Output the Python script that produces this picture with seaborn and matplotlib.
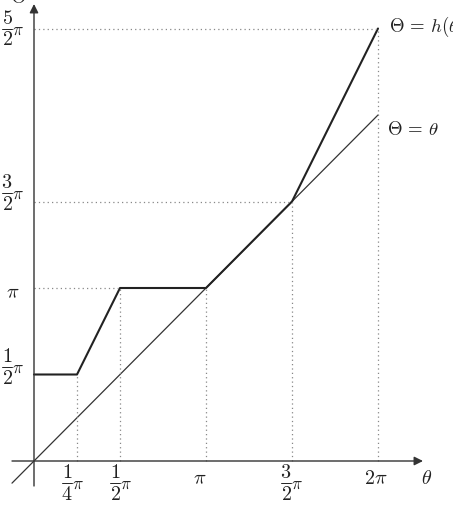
import numpy as np
import pandas as pd
import matplotlib
matplotlib.use("Agg")
import matplotlib.pyplot as plt
import seaborn as sns

# values in units of pi
theta_pts = [0, 0.25, 0.5, 1, 1.5, 2]
h_pts = [0.5, 0.5, 1, 1, 1.5, 2.5]
ident_theta = [-0.128, 2]
ident_vals = [-0.128, 2]

# tick labels: (numerator, denominator) or plain text
x_ticks = [0.25, 0.5, 1, 1.5, 2]
x_labels = [("1", "4"), ("1", "2"), r"$\pi$", ("3", "2"), r"$2\pi$"]
y_ticks = [0.5, 1, 1.5, 2.5]
y_labels = [("1", "2"), r"$\pi$", ("3", "2"), ("5", "2")]

sns.set_style("white")
plt.rcParams["mathtext.fontset"] = "cm"
plt.rcParams["font.family"] = ["serif"]
plt.rcParams["font.serif"] = ["DejaVu Serif"]

fig = plt.figure(figsize=(4.53, 5.09), dpi=100)
ax = fig.add_axes([0, 0, 1, 1])

# pixel -> data helpers (origin at pixel 34, 461)
sx, sy = 172.0, 173.0
def px(x):
    return (x - 34) / sx
def py(y):
    return (461 - y) / sy

ax.set_xlim(px(0), px(453))
ax.set_ylim(py(509), py(0))
ax.axis("off")

df_h = pd.DataFrame({"theta": theta_pts, "h": h_pts})
df_i = pd.DataFrame({"theta": ident_theta, "v": ident_vals})

sns.lineplot(data=df_i, x="theta", y="v", ax=ax, color="#333333", lw=0.9, sort=False)
sns.lineplot(data=df_h, x="theta", y="h", ax=ax, color="#222222", lw=1.5, sort=False)

# dotted guide lines
dot = dict(color="#888888", lw=0.9, ls=(0, (1, 2.5)))
for t, v in zip(theta_pts[1:], h_pts[1:]):
    ax.plot([t, t], [0, v], **dot)
ax.plot([0, 0.5], [1, 1], **dot)
ax.plot([0, 1.5], [1.5, 1.5], **dot)
ax.plot([0, 2], [2.5, 2.5], **dot)

# axes with arrows
arr = dict(arrowstyle="-|>", color="#333333", lw=1.0, mutation_scale=13, shrinkA=0, shrinkB=0)
ax.annotate("", xy=(px(423), 0), xytext=(px(12), 0), arrowprops=arr)
ax.annotate("", xy=(0, py(4)), xytext=(0, py(486)), arrowprops=arr)

fs = 14.5
tc = "#222222"

def frac_label(cx, bar, num, den, pi_x):
    # cx, bar, pi_x in pixels
    ax.text(px(cx), py(bar - 10), "$" + num + "$", ha="center", va="center", fontsize=fs, color=tc)
    ax.text(px(cx), py(bar + 11), "$" + den + "$", ha="center", va="center", fontsize=fs, color=tc)
    ax.plot([px(cx - 5), px(cx + 5)], [py(bar), py(bar)], color=tc, lw=0.7)
    ax.text(px(pi_x), py(bar + 1), r"$\pi$", ha="left", va="center", fontsize=fs - 2, color=tc)

# x labels (pixel anchors)
x_pos = [(67, 483, 72), (115, 483, 120), (200, 479, None), (286, 483, 291), (376, 478, None)]
for t, lab, (xp, yp, pp) in zip(x_ticks, x_labels, x_pos):
    if isinstance(lab, tuple):
        frac_label(xp, yp, lab[0], lab[1], pp)
    else:
        ax.text(px(xp), py(yp), lab, ha="center", va="center", fontsize=fs, color=tc)
ax.text(px(427), py(478), r"$\theta$", ha="center", va="center", fontsize=fs, color=tc)

# y labels
y_pos = [(7, 367, 12), (13, 293, None), (7, 193, 12), (7, 29, 12)]
for v, lab, (xp, yp, pp) in zip(y_ticks, y_labels, y_pos):
    if isinstance(lab, tuple):
        frac_label(xp, yp, lab[0], lab[1], pp)
    else:
        ax.text(px(xp), py(yp), lab, ha="center", va="center", fontsize=fs, color=tc)
ax.text(px(18), py(7), r"$\Theta$", ha="center", va="bottom", fontsize=fs, color=tc)

ax.text(px(389), py(27), r"$\Theta\,=\,h(\theta$", ha="left", va="center", fontsize=13.5, color=tc)
ax.text(px(387), py(130), r"$\Theta\,=\,\theta$", ha="left", va="center", fontsize=13.5, color=tc)

fig.savefig("out.png", dpi=100)
